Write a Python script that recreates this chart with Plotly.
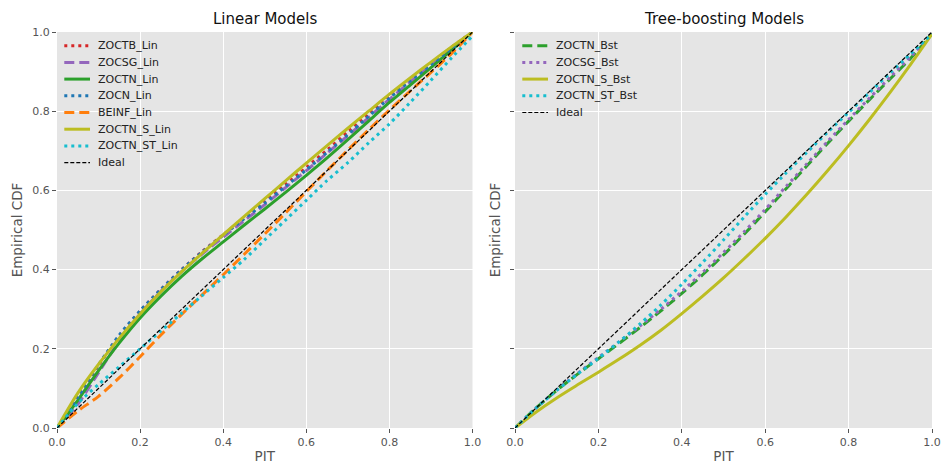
import plotly.graph_objects as go

# PIT grid shared by every curve
pit = [0.00, 0.05, 0.10, 0.15, 0.20, 0.25, 0.30, 0.35, 0.40, 0.45, 0.50,
       0.55, 0.60, 0.65, 0.70, 0.75, 0.80, 0.85, 0.90, 0.95, 1.00]

# Empirical CDF of PIT values - linear models
zoctb_lin = [0, 0.075, 0.158, 0.232, 0.295, 0.350, 0.400, 0.446, 0.488, 0.530, 0.572,
             0.615, 0.658, 0.702, 0.748, 0.793, 0.838, 0.880, 0.920, 0.962, 1.0]
zocsg_lin = [0, 0.060, 0.140, 0.220, 0.288, 0.345, 0.395, 0.440, 0.482, 0.523, 0.564,
             0.607, 0.650, 0.694, 0.738, 0.784, 0.830, 0.874, 0.916, 0.958, 1.0]
zoctn_lin = [0, 0.070, 0.145, 0.215, 0.278, 0.333, 0.383, 0.428, 0.470, 0.512, 0.553,
             0.595, 0.638, 0.682, 0.728, 0.775, 0.822, 0.866, 0.910, 0.955, 1.0]
zocn_lin = [0, 0.078, 0.160, 0.235, 0.296, 0.350, 0.400, 0.445, 0.487, 0.528, 0.568,
            0.610, 0.652, 0.696, 0.741, 0.787, 0.833, 0.876, 0.917, 0.959, 1.0]
beinf_lin = [0, 0.043, 0.080, 0.127, 0.180, 0.235, 0.287, 0.337, 0.387, 0.438, 0.490,
             0.543, 0.597, 0.650, 0.702, 0.753, 0.803, 0.851, 0.898, 0.946, 1.0]
zoctn_s_lin = [0, 0.088, 0.161, 0.227, 0.288, 0.344, 0.395, 0.442, 0.488, 0.534, 0.579,
               0.624, 0.669, 0.713, 0.757, 0.800, 0.843, 0.884, 0.924, 0.963, 1.0]
zoctn_st_lin = [0, 0.062, 0.110, 0.155, 0.200, 0.245, 0.290, 0.335, 0.380, 0.425, 0.475,
                0.525, 0.575, 0.625, 0.670, 0.720, 0.768, 0.822, 0.878, 0.935, 0.990]

# Empirical CDF of PIT values - tree-boosting models
zoctn_bst = [0, 0.050, 0.095, 0.136, 0.175, 0.214, 0.254, 0.296, 0.340, 0.387, 0.437,
             0.490, 0.546, 0.604, 0.662, 0.719, 0.775, 0.829, 0.882, 0.935, 0.995]
zocsg_bst = [0, 0.050, 0.096, 0.138, 0.178, 0.218, 0.258, 0.300, 0.345, 0.393, 0.443,
             0.496, 0.552, 0.610, 0.667, 0.724, 0.779, 0.833, 0.886, 0.939, 0.995]
zoctn_s_bst = [0, 0.040, 0.076, 0.109, 0.141, 0.174, 0.209, 0.247, 0.289, 0.333, 0.379,
               0.428, 0.479, 0.533, 0.590, 0.650, 0.713, 0.779, 0.848, 0.920, 0.995]
zoctn_st_bst = [0, 0.050, 0.095, 0.136, 0.176, 0.218, 0.263, 0.311, 0.363, 0.418, 0.475,
                0.533, 0.590, 0.644, 0.696, 0.747, 0.797, 0.847, 0.897, 0.946, 0.995]

ideal = [0.0, 1.0]

ticks = [0.0, 0.2, 0.4, 0.6, 0.8, 1.0]
tick_text = ["0.0", "0.2", "0.4", "0.6", "0.8", "1.0"]

RED, PURPLE, GREEN, BLUE = "#d62728", "#9467bd", "#2ca02c", "#1f77b4"
ORANGE, OLIVE, CYAN = "#ff7f0e", "#bcbd22", "#17becf"
DOT, DASH, SOLID = "3px,4px", "10px,5px", "solid"
IDEAL_DASH = "4px,2px"

left_series = [
    ("ZOCTB_Lin", zoctb_lin, RED, DOT),
    ("ZOCSG_Lin", zocsg_lin, PURPLE, DASH),
    ("ZOCTN_Lin", zoctn_lin, GREEN, SOLID),
    ("ZOCN_Lin", zocn_lin, BLUE, DOT),
    ("BEINF_Lin", beinf_lin, ORANGE, DASH),
    ("ZOCTN_S_Lin", zoctn_s_lin, OLIVE, SOLID),
    ("ZOCTN_ST_Lin", zoctn_st_lin, CYAN, DOT),
]
right_series = [
    ("ZOCTN_Bst", zoctn_bst, GREEN, DASH),
    ("ZOCSG_Bst", zocsg_bst, PURPLE, DOT),
    ("ZOCTN_S_Bst", zoctn_s_bst, OLIVE, SOLID),
    ("ZOCTN_ST_Bst", zoctn_st_bst, CYAN, DOT),
]

W, H = 943, 464
ML, MR, MT, MB = 57, 11, 32, 36
plot_w = W - ML - MR
left_px = (57, 472.5)
right_px = (515, 932)
dom1 = [(left_px[0] - ML) / plot_w, (left_px[1] - ML) / plot_w]
dom2 = [(right_px[0] - ML) / plot_w, (right_px[1] - ML) / plot_w]

fig = go.Figure()

for name, ys, color, dash in left_series:
    fig.add_trace(go.Scatter(x=pit, y=ys, mode="lines", name=name,
                             line=dict(color=color, width=3, dash=dash, shape="spline",
                                       smoothing=0.8),
                             xaxis="x", yaxis="y", showlegend=False))
fig.add_trace(go.Scatter(x=ideal, y=ideal, mode="lines", name="Ideal",
                         line=dict(color="black", width=1.2, dash=IDEAL_DASH),
                         xaxis="x", yaxis="y", showlegend=False))

for name, ys, color, dash in right_series:
    fig.add_trace(go.Scatter(x=pit, y=ys, mode="lines", name=name,
                             line=dict(color=color, width=3, dash=dash, shape="spline",
                                       smoothing=0.8),
                             xaxis="x2", yaxis="y2", showlegend=False))
fig.add_trace(go.Scatter(x=ideal, y=ideal, mode="lines", name="Ideal",
                         line=dict(color="black", width=1.2, dash=IDEAL_DASH),
                         xaxis="x2", yaxis="y2", showlegend=False))

# Legend boxes drawn inside each panel (row pitch in pixels)
shapes, annotations = [], []
plot_top, plot_h = 32, 396


def add_legend(axis_suffix, ax_w, entries):
    xr = f"x{axis_suffix} domain"
    yr = f"y{axis_suffix} domain"
    for i, (name, color, dash, width) in enumerate(entries):
        yc = 45.7 + 16.7 * i
        yd = (plot_top + plot_h - yc) / plot_h
        shapes.append(dict(type="line", xref=xr, yref=yr,
                           x0=7.3 / ax_w, x1=33 / ax_w,
                           y0=yd, y1=yd,
                           line=dict(color=color, width=width, dash=dash)))
        annotations.append(dict(xref=xr, yref=yr, x=38.5 / ax_w, y=yd,
                                text=name, showarrow=False, xanchor="left",
                                yanchor="middle",
                                font=dict(family="DejaVu Sans", size=11, color="#222")))


left_entries = [(n, c, d, 3) for n, _, c, d in left_series] + [("Ideal", "black", IDEAL_DASH, 1.2)]
right_entries = [(n, c, d, 3) for n, _, c, d in right_series] + [("Ideal", "black", IDEAL_DASH, 1.2)]
add_legend("", left_px[1] - left_px[0], left_entries)
add_legend("2", right_px[1] - right_px[0], right_entries)

# Panel titles
for txt, cx in [("Linear Models", (left_px[0] + left_px[1]) / 2),
                ("Tree-boosting Models", (right_px[0] + right_px[1]) / 2)]:
    annotations.append(dict(xref="paper", yref="paper", x=(cx - ML) / plot_w,
                            y=1 + (32 - 19.5) / plot_h, text=txt, showarrow=False,
                            xanchor="center", yanchor="middle",
                            font=dict(family="DejaVu Sans", size=15, color="#111")))

axis_common = dict(range=[0, 1], tickvals=ticks, ticktext=tick_text,
                   showgrid=True, gridcolor="white", gridwidth=1,
                   zeroline=False, showline=False, automargin=False,
                   ticks="outside", ticklen=4, tickwidth=1, tickcolor="#555",
                   tickfont=dict(family="DejaVu Sans", size=11, color="#555"),
                   fixedrange=True)
title_font = dict(family="DejaVu Sans", size=13.5, color="#555")

fig.update_layout(
    width=W, height=H,
    margin=dict(l=ML, r=MR, t=MT, b=MB, pad=0, autoexpand=False),
    paper_bgcolor="white", plot_bgcolor="#E5E5E5",
    font=dict(family="DejaVu Sans"),
    showlegend=False,
    xaxis=dict(domain=dom1, anchor="y",
               title=dict(text="PIT", font=title_font, standoff=4), **axis_common),
    yaxis=dict(domain=[0, 1], anchor="x",
               title=dict(text="Empirical CDF", font=title_font, standoff=6), **axis_common),
    xaxis2=dict(domain=dom2, anchor="y2",
                title=dict(text="PIT", font=title_font, standoff=4), **axis_common),
    yaxis2=dict(domain=[0, 1], anchor="x2", matches="y", showticklabels=False,
                title=dict(text="Empirical CDF", font=title_font, standoff=6), **axis_common),
    shapes=shapes, annotations=annotations,
)

fig.write_html("out.html")
